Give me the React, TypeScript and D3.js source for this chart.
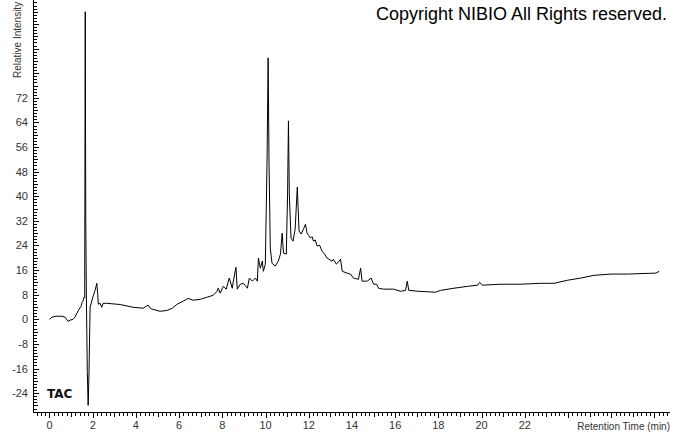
import React, { useRef, useEffect } from 'react';
import * as d3 from 'd3';

// retention time (min) and relative intensity
const times = [
  0.0, 0.12, 0.3, 0.58, 0.72, 0.86, 0.95, 1.09, 1.18, 1.27, 1.37, 1.46, 1.51, 1.55, 1.6,
  1.63, 1.655, 1.67, 1.68, 1.71, 1.75, 1.79, 1.83, 1.88,
  2.02, 2.11, 2.19, 2.23, 2.26, 2.34, 2.42, 2.48, 2.65, 3.12, 3.27, 3.87, 4.33, 4.47, 4.57, 4.66,
  4.75, 5.12, 5.45, 5.68, 5.91, 6.19, 6.42, 6.65, 6.98, 7.3, 7.44, 7.58, 7.75, 7.81, 7.9,
  8.04, 8.18, 8.32, 8.46, 8.51, 8.63, 8.69, 8.83, 8.97, 9.16, 9.25, 9.39, 9.53, 9.62, 9.67,
  9.76, 9.85, 9.9, 9.99, 10.07, 10.12, 10.16, 10.22, 10.3, 10.45, 10.59, 10.69, 10.77, 10.83,
  10.96, 11.02, 11.06, 11.1, 11.18, 11.27, 11.37, 11.47, 11.55, 11.65, 11.77, 11.85, 11.92,
  12.0, 12.08, 12.15, 12.22, 12.3, 12.39, 12.5, 12.62, 12.72, 12.85, 13.08, 13.14, 13.28, 13.47,
  13.55, 13.78, 13.93, 14.07,
  14.3, 14.4, 14.47, 14.71, 14.89, 15.0, 15.14, 15.23, 15.46, 15.92, 16.25, 16.48, 16.56,
  16.63, 17.1, 17.87, 18.1, 18.72, 19.34, 19.82, 19.91, 20.04, 20.89, 21.81, 22.74, 23.36,
  23.98, 24.59, 25.21, 25.99, 26.76, 27.99, 28.07, 28.22,
];
const intensity = [
  0.0, 0.7, 1.0, 1.0, 0.7, -0.7, -0.3, 0.0, 0.7, 2.0, 3.3, 4.2, 5.5, 5.9, 7.2,
  7.0, 100, 57, 31, 6, -17, -28, -17, 4,
  7.5, 9.4, 11.7, 8.5, 4.9, 5.2, 3.9, 5.2, 5.2, 4.9, 4.8, 3.9, 3.6, 4.2, 4.6, 3.6,
  3.3, 2.6, 2.9, 3.6, 4.9, 5.9, 6.8, 6.2, 6.5, 7.2, 7.5, 7.8, 9.1, 10.1, 8.5,
  10.7, 9.8, 13.4, 10.1, 12.4, 16.9, 9.8, 11.4, 11.7, 10.1, 13.4, 12.4, 13.4, 12.4, 19.9,
  16.6, 18.9, 15.6, 17.9, 51.5, 85, 51.5, 23.1, 18.2, 17.3, 18.9, 21.2, 28, 21.5,
  21.2, 40.7, 64.5, 40.7, 26.4, 25.4, 29.3, 43, 28.7, 27.7, 29.6, 30.9, 28,
  27.2, 26.4, 26.9, 25.4, 25.8, 23.8, 24.1, 22.1, 21.3, 19.9, 18.9, 19.5, 17.9, 19.5,
  15.6, 15.0, 14.7, 13.4,
  13.0, 16.6, 12.4, 12.4, 13.4, 11.4, 11.4, 10.1, 9.8, 9.8, 9.1, 9.4, 12.4,
  9.4, 9.1, 8.8, 9.4, 10.1, 10.7, 11.1, 12.0, 11.1, 11.4, 11.4, 11.7, 11.7,
  12.7, 13.4, 14.3, 14.7, 14.7, 15.0, 15.0, 15.6,
];
const xTickLabels = [0, 2, 4, 6, 8, 10, 12, 14, 16, 18, 20, 22];
const yTickLabels = [-24, -16, -8, 0, 8, 16, 24, 32, 40, 48, 56, 64, 72];

const App = () => {
  const ref = useRef<SVGSVGElement>(null);

  useEffect(() => {
    const width = 673;
    const height = 433;
    const svg = d3.select(ref.current);
    svg.selectAll('*').remove();

    const left = 33.5;
    const right = 670;
    const bottom = 412.5;
    const top = 0;

    const x = d3.scaleLinear().domain([-0.74, 28.72]).range([left, right]);
    const y = d3.scaleLinear().domain([-30.3, 103.8]).range([bottom, top]);

    svg.attr('width', width).attr('height', height);
    svg.append('rect').attr('width', width).attr('height', height).attr('fill', '#fff');

    // axes lines
    svg.append('line').attr('x1', left).attr('x2', left).attr('y1', top).attr('y2', bottom)
      .attr('stroke', '#000').attr('shape-rendering', 'crispEdges');
    svg.append('line').attr('x1', left).attr('x2', right).attr('y1', bottom).attr('y2', bottom)
      .attr('stroke', '#000').attr('shape-rendering', 'crispEdges');

    // y ticks
    const yMinor = d3.range(-30, 104, 1);
    svg.append('g').selectAll('line').data(yMinor).enter().append('line')
      .attr('x1', left).attr('x2', (d) => left + (d % 8 === 0 ? 5 : d % 4 === 0 ? 4 : 3))
      .attr('y1', (d) => Math.round(y(d)) + 0.5).attr('y2', (d) => Math.round(y(d)) + 0.5)
      .attr('stroke', '#000').attr('shape-rendering', 'crispEdges');

    svg.append('g').selectAll('text').data(yTickLabels).enter().append('text')
      .attr('x', 28).attr('y', (d) => y(d) + 4)
      .attr('text-anchor', 'end')
      .style('font-family', 'Liberation Sans, Arial, sans-serif')
      .style('font-size', '11px')
      .attr('fill', '#333')
      .text((d) => d);

    // x ticks
    const xMinor = d3.range(-0.6, 28.7, 0.2).map((d) => Math.round(d * 10) / 10);
    svg.append('g').selectAll('line').data(xMinor).enter().append('line')
      .attr('x1', (d) => Math.round(x(d)) + 0.5).attr('x2', (d) => Math.round(x(d)) + 0.5)
      .attr('y1', bottom).attr('y2', (d) => bottom + (Math.abs(d % 2) < 0.01 ? 5 : Math.abs(d % 1) < 0.01 ? 4 : 3))
      .attr('stroke', '#000').attr('shape-rendering', 'crispEdges');

    svg.append('g').selectAll('text').data(xTickLabels).enter().append('text')
      .attr('x', (d) => x(d)).attr('y', 429)
      .attr('text-anchor', 'middle')
      .style('font-family', 'Liberation Sans, Arial, sans-serif')
      .style('font-size', '11px')
      .attr('fill', '#333')
      .text((d) => d);

    // axis titles
    svg.append('text')
      .attr('x', 670).attr('y', 430)
      .attr('text-anchor', 'end')
      .style('font-family', 'Liberation Sans, Arial, sans-serif')
      .style('font-size', '10px')
      .attr('fill', '#333')
      .text('Retention Time (min)');

    svg.append('text')
      .attr('transform', 'translate(21,78) rotate(-90)')
      .attr('text-anchor', 'start')
      .style('font-family', 'Liberation Sans, Arial, sans-serif')
      .style('font-size', '10px')
      .attr('fill', '#333')
      .text('Relative Intensity');

    // trace
    const line = d3.line<number>()
      .x((d, i) => x(times[i]))
      .y((d) => y(d));
    svg.append('path')
      .datum(intensity)
      .attr('d', line)
      .attr('fill', 'none')
      .attr('stroke', '#000')
      .attr('stroke-width', 1);

    svg.append('text')
      .attr('x', 47).attr('y', 398)
      .style('font-family', 'DejaVu Sans, sans-serif')
      .style('font-weight', 'bold')
      .style('font-size', '12px')
      .attr('fill', '#111')
      .text('TAC');

    svg.append('text')
      .attr('x', 376).attr('y', 20)
      .style('font-family', 'Liberation Sans, Arial, sans-serif')
      .style('font-size', '18px')
      .attr('fill', '#000')
      .text('Copyright NIBIO All Rights reserved.');
  }, []);

  return <svg ref={ref} style={{ position: 'absolute', left: 0, top: 0 }} />;
};

export default App;
